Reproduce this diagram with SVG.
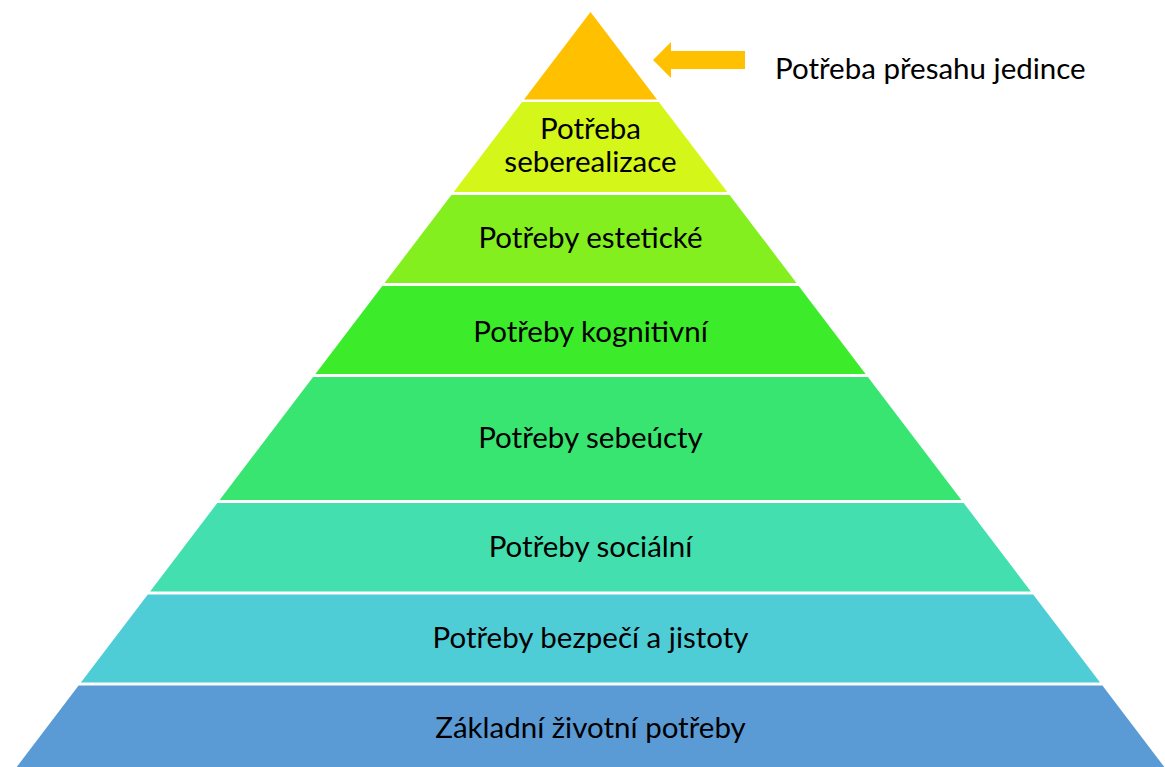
<svg xmlns="http://www.w3.org/2000/svg" width="1165" height="767" viewBox="0 0 1165 767">
<style>
  text { font-family: Lato, "Liberation Sans", sans-serif; font-size: 29.5px; fill: #000; }
  .c { text-anchor: middle; }
</style>
<rect x="0" y="0" width="1165" height="767" fill="#ffffff"/>
<g id="level-top"><polygon points="590.5,12 657,99.5 524,99.5" fill="#FFC000"/></g>
<g id="level-seberealizace"><polygon points="522.1,102 658.9,102 727.3,192 453.7,192" fill="#D4F618"/>
  <text class="c" x="590.5" y="138.5">Potřeba</text>
  <text class="c" x="590.5" y="172">seberealizace</text></g>
<g id="level-esteticke"><polygon points="451.4,195 729.6,195 796.5,283 384.5,283" fill="#84EF1E"/>
  <text class="c" x="590.5" y="247.5">Potřeby estetické</text></g>
<g id="level-kognitivni"><polygon points="382.3,286 798.7,286 865.6,374 315.4,374" fill="#3CEB2A"/>
  <text class="c" x="590.5" y="342">Potřeby kognitivní</text></g>
<g id="level-sebeucty"><polygon points="313.1,377 867.9,377 961.4,500 219.6,500" fill="#38E571"/>
  <text class="c" x="590.5" y="448">Potřeby sebeúcty</text></g>
<g id="level-socialni"><polygon points="217.3,503 963.7,503 1030.9,591.5 150.1,591.5" fill="#44DFAF"/>
  <text class="c" x="590.5" y="556.5">Potřeby sociální</text></g>
<g id="level-bezpeci"><polygon points="147.8,594.5 1033.2,594.5 1100.1,682.5 80.9,682.5" fill="#4FCDD7"/>
  <text class="c" x="590.5" y="647.5">Potřeby bezpečí a jistoty</text></g>
<g id="level-zakladni"><polygon points="78.6,685.5 1102.4,685.5 1164.3,767 16.7,767" fill="#5B9BD5"/>
  <text class="c" x="590.5" y="737.5">Základní životní potřeby</text></g>
<g id="connectors"><polygon points="653,60 671,42 671,51 745,51 745,69 671,69 671,78" fill="#FFC000"/></g>
<g id="label-presah"><text x="775" y="79">Potřeba přesahu jedince</text></g>
</svg>
